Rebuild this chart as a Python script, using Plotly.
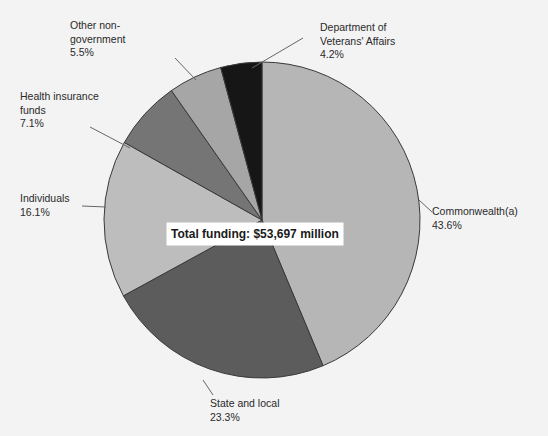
import plotly.graph_objects as go

# Funding sources and their share of total health funding (%)
sources = ["Commonwealth(a)", "State and local", "Individuals",
           "Health insurance\nfunds", "Other non-\ngovernment",
           "Department of\nVeterans' Affairs"]
shares = [43.6, 23.3, 16.1, 7.1, 5.5, 4.2]
total_label = "Total funding: $53,697 million"

slice_colors = ["#b6b6b6", "#5c5c5c", "#bdbdbd", "#757575", "#a6a6a6", "#161616"]

W, H = 548, 436
cx, cy, r = 262, 220, 158

fig = go.Figure(go.Pie(
    labels=sources,
    values=shares,
    sort=False,
    direction="clockwise",
    rotation=0,
    textinfo="none",
    hoverinfo="label+value",
    marker=dict(colors=slice_colors, line=dict(color="#3a3a3a", width=1)),
    domain=dict(x=[(cx - r) / W, (cx + r) / W], y=[1 - (cy + r) / H, 1 - (cy - r) / H]),
    showlegend=False,
))


def px(x, y):
    return x / W, 1 - y / H


# label placement (text anchor, leader line start, leader line end)
placements = [
    ((430, 218), (419, 200), (432, 212)),   # Commonwealth
    ((208, 410), (203, 380), (213, 395)),   # State and local
    ((18, 205), (82, 206), (106, 207)),     # Individuals
    ((18, 110), (90, 127), (130, 148)),     # Health insurance
    ((68, 38), (175, 58), (196, 80)),       # Other non-government
    ((318, 40), (303, 38), (252, 68)),      # DVA
]

annotations = []
shapes = []
for name, val, (tpos, l0, l1) in zip(sources, shares, placements):
    text = name.replace("\n", "<br>") + f"<br>{val:.1f}%"
    x, y = px(*tpos)
    annotations.append(dict(
        x=x, y=y, xref="paper", yref="paper", text=text, showarrow=False,
        xanchor="left", yanchor="middle", align="left",
        font=dict(family="Liberation Sans, Arial", size=10.5, color="#2a2a2a"),
    ))
    x0, y0 = px(*l0)
    x1, y1 = px(*l1)
    shapes.append(dict(type="line", xref="paper", yref="paper",
                       x0=x0, y0=y0, x1=x1, y1=y1,
                       line=dict(color="#666666", width=1)))

bx, by = px(255, 234)
annotations.append(dict(
    x=bx, y=by, xref="paper", yref="paper", text="<b>" + total_label + "</b>",
    showarrow=False, xanchor="center", yanchor="middle",
    bgcolor="#ffffff", borderpad=4,
    font=dict(family="Liberation Sans, Arial", size=12, color="#1a1a1a"),
))

fig.update_layout(
    width=W, height=H,
    margin=dict(l=0, r=0, t=0, b=0),
    paper_bgcolor="#f3f3f3",
    plot_bgcolor="#f3f3f3",
    annotations=annotations,
    shapes=shapes,
)

fig.write_html("out.html")
